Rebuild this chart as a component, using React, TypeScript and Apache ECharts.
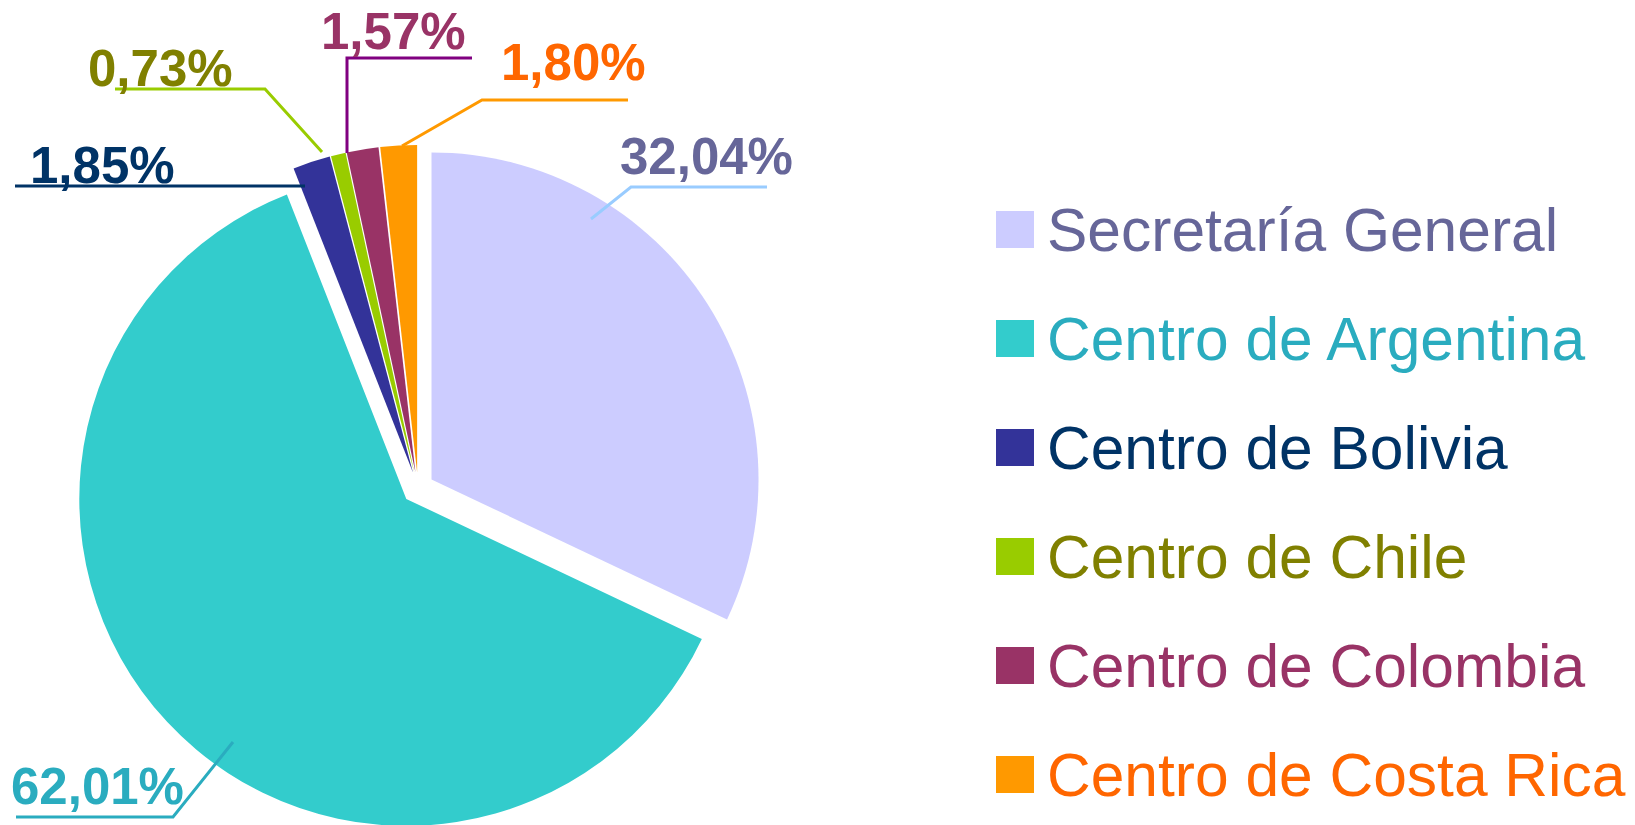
import React, { useEffect, useRef } from "react";
import * as echarts from "echarts";

const categories = [
  "Secretaría General",
  "Centro de Argentina",
  "Centro de Bolivia",
  "Centro de Chile",
  "Centro de Colombia",
  "Centro de Costa Rica",
];
const shares = [32.04, 62.01, 1.85, 0.73, 1.57, 1.8];
const sliceColors = ["#CCCCFF", "#33CCCC", "#333399", "#99CC00", "#993366", "#FF9900"];
const textColors = ["#666699", "#2AACBF", "#003366", "#808000", "#993366", "#FF6600"];
const leaderColors = ["#99CCFF", "#2AACBF", "#003366", "#99CC00", "#800080", "#FF9900"];

// label placement (annotation layout, not data)
const labelAnchors = [
  [620, 156],
  [11, 786],
  [30, 165],
  [88, 68],
  [321, 31],
  [501, 62],
];
const leaderPoints = [
  [[591, 219], [631, 187], [767, 187]],
  [[233, 742], [173, 817], [16, 817]],
  [[305, 186], [200, 186], [15, 186]],
  [[322, 152], [265, 89], [115, 89]],
  [[347, 153], [347, 58], [472, 58]],
  [[402, 146], [482, 100], [628, 100]],
];

const FONT = "'Liberation Sans', Arial, sans-serif";
const CX = 418;
const CY = 488;
const RADIUS = 327;
const EXPLODE = 16;
const TRANSPARENT = "rgba(0,0,0,0)";

export default function App() {
  const ref = useRef<HTMLDivElement>(null);
  useEffect(() => {
    if (!ref.current) return;
    const chart = echarts.init(ref.current, null, { renderer: "svg" });
    const total = shares.reduce((a, b) => a + b, 0);
    let cum = 0;
    // one series per exploded slice
    const sliceSeries: any[] = categories.map((_, i) => {
      const mid = ((cum + shares[i] / 2) / total) * Math.PI * 2;
      cum += shares[i];
      return {
        type: "pie",
        name: "slice" + i,
        center: [CX + EXPLODE * Math.sin(mid), CY - EXPLODE * Math.cos(mid)],
        radius: RADIUS,
        startAngle: 90,
        clockwise: true,
        silent: true,
        z: 2,
        emphasis: { disabled: true },
        label: { show: false },
        labelLine: { show: false },
        data: categories.map((name, j) => ({
          name,
          value: shares[j],
          itemStyle: { color: j === i ? sliceColors[j] : TRANSPARENT, borderWidth: 0 },
        })),
      };
    });
    // overlay series carrying the data labels and leader lines
    const labelSeries = {
      type: "pie",
      name: "labels",
      center: [CX, CY],
      radius: RADIUS,
      startAngle: 90,
      clockwise: true,
      silent: true,
      z: 5,
      avoidLabelOverlap: false,
      emphasis: { disabled: true },
      data: categories.map((name, j) => ({
        name,
        value: shares[j],
        itemStyle: { color: TRANSPARENT, borderWidth: 0 },
        label: { color: textColors[j] },
        labelLine: { lineStyle: { color: leaderColors[j], width: 3 } },
      })),
      label: {
        show: true,
        position: "outside",
        fontSize: 51,
        fontWeight: "bold",
        fontFamily: FONT,
        formatter: (p: any) => p.value.toFixed(2).replace(".", ",") + "%",
      },
      labelLine: { show: true, smooth: false },
      labelLayout: (params: any) => {
        const k = params.dataIndex;
        return {
          x: labelAnchors[k][0],
          y: labelAnchors[k][1],
          align: "left",
          verticalAlign: "middle",
          labelLinePoints: leaderPoints[k],
        };
      },
    };
    chart.setOption({
      animation: false,
      backgroundColor: "#ffffff",
      legend: {
        orient: "vertical",
        left: 991,
        top: 194,
        itemWidth: 38,
        itemHeight: 37,
        itemGap: 48,
        icon: "rect",
        selectedMode: false,
        textStyle: {
          fontSize: 60.5,
          lineHeight: 60,
          fontFamily: FONT,
          padding: [0, 0, 0, 8],
        },
        data: categories.map((name, i) => ({
          name,
          itemStyle: { color: sliceColors[i] },
          textStyle: { color: textColors[i] },
        })),
      },
      series: [...sliceSeries, labelSeries],
    });
    return () => chart.dispose();
  }, []);
  return (
    <div
      ref={ref}
      style={{ position: "absolute", left: 0, top: 0, width: 1635, height: 825 }}
    />
  );
}
